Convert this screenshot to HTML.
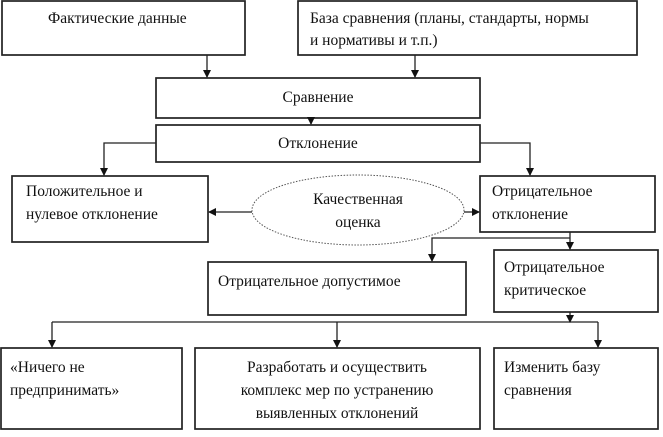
<!DOCTYPE html>
<html><head><meta charset="utf-8"><style>
body{margin:0;background:#fff;width:663px;height:432px;overflow:hidden}
svg text{font-family:"Liberation Serif","DejaVu Serif",serif;font-size:15.5px;fill:#111}
</style></head><body>
<svg width="663" height="432" xmlns="http://www.w3.org/2000/svg">
<defs><marker id="a" markerWidth="8" markerHeight="8" refX="7" refY="4" orient="auto" markerUnits="userSpaceOnUse"><path d="M0,0 L8,4 L0,8z" fill="#111"/></marker></defs>
<g fill="#fff" stroke="#222" stroke-width="1.7">
<rect x="2" y="1" width="243" height="54"/>
<rect x="298" y="1" width="339" height="54"/>
<rect x="156" y="78" width="324" height="40"/>
<rect x="156" y="125" width="324" height="37"/>
<rect x="12" y="176" width="196" height="66"/>
<rect x="480" y="176" width="175" height="56"/>
<rect x="208" y="262" width="258" height="53"/>
<rect x="494" y="250" width="164" height="62"/>
<rect x="1" y="348" width="181" height="81"/>
<rect x="195" y="348" width="285" height="81"/>
<rect x="494" y="348" width="164" height="81"/>
</g>
<ellipse cx="358" cy="210" rx="106" ry="35" fill="#fff" stroke="#555" stroke-dasharray="1.5,1.5"/>
<g stroke="#222" stroke-width="1.3" fill="none" marker-end="url(#a)">
<path d="M207 55 V77"/><path d="M415 55 V77"/><path d="M311 118 V124"/>
<path d="M156 143 H104 V175"/><path d="M480 143 H530 V175"/>
<path d="M252 212 H209"/><path d="M464 212 H479"/>
<path d="M570 232 V249"/><path d="M570 238 H432 V261"/>
<path d="M570 312 V322"/>
<path d="M52 322 V347"/><path d="M337 322 V347"/><path d="M598 322 V347"/>
</g>
<path d="M52 322 H598" stroke="#222" stroke-width="1.3"/>
<text x="48" y="23">Фактические данные</text>
<text x="310" y="23">База сравнения (планы, стандарты, нормы</text>
<text x="310" y="45">и нормативы и т.п.)</text>
<text x="318" y="102" text-anchor="middle">Сравнение</text>
<text x="318" y="148" text-anchor="middle">Отклонение</text>
<text x="26" y="196">Положительное и</text>
<text x="26" y="219">нулевое отклонение</text>
<text x="358" y="204" text-anchor="middle">Качественная</text>
<text x="358" y="227" text-anchor="middle">оценка</text>
<text x="492" y="196">Отрицательное</text>
<text x="492" y="219">отклонение</text>
<text x="218" y="286">Отрицательное допустимое</text>
<text x="504" y="272">Отрицательное</text>
<text x="504" y="295">критическое</text>
<text x="10" y="372">«Ничего не</text>
<text x="10" y="395">предпринимать»</text>
<text x="337" y="372" text-anchor="middle">Разработать и осуществить</text>
<text x="337" y="395" text-anchor="middle">комплекс мер по устранению</text>
<text x="337" y="418" text-anchor="middle">выявленных отклонений</text>
<text x="504" y="372">Изменить базу</text>
<text x="504" y="395">сравнения</text>
</svg>
</body></html>
